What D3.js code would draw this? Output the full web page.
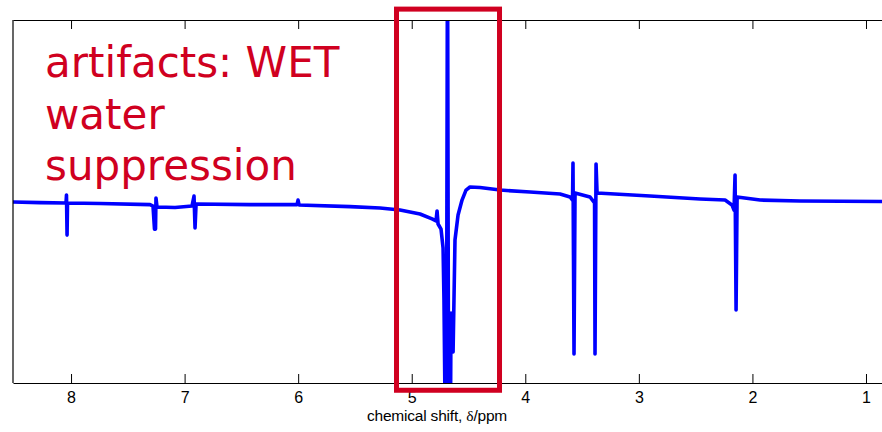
<!DOCTYPE html>
<html>
<head>
<meta charset="utf-8">
<script src="https://cdn.jsdelivr.net/npm/d3@7"></script>
<style>
    body { margin: 0; background: #fff; }
    .tick text { font-family: "Liberation Sans", Arial, sans-serif; font-size: 16px; fill: #000; }
</style>
</head>
<body>
<div id="chart"></div>
<script>
// spectrum: chemical shift (ppm) and intensity (arbitrary units)
var ppm = [8.511, 8.273, 8.044, 8.040, 8.035, 8.031, 7.745, 7.304, 7.278, 7.265,
    7.256, 7.252, 7.243, 7.084, 6.935, 6.917, 6.908, 6.899, 6.424, 6.010,
    6.001, 5.992, 5.543, 5.279, 5.103, 4.927, 4.821, 4.786, 4.777, 4.768,
    4.742, 4.724, 4.716, 4.707, 4.694, 4.685, 4.676, 4.658, 4.654, 4.645,
    4.636, 4.628, 4.619, 4.592, 4.557, 4.522, 4.487, 4.399, 4.222, 3.958,
    3.694, 3.606, 3.584, 3.580, 3.571, 3.562, 3.430, 3.390, 3.386, 3.377,
    3.368, 2.902, 2.461, 2.241, 2.180, 2.162, 2.153, 2.144, 2.135, 1.933,
    1.581, 0.859];
var intensity = [-0.3, -0.6, -0.8, 3.6, -18.5, -0.8, -1.1, -1.7, -2.5, -15.2,
    -15.2, 1.9, -3.0, -3.3, -2.5, 3.0, -14.6, -1.4, -1.7, -1.7,
    0.8, -1.9, -2.8, -3.6, -4.7, -6.9, -9.6, -10.7, -5.2, -12.4,
    -15.2, -25.6, -54.3, -110, -110, 150, -110, -110, -61.4, -82.9,
    -82.9, -54.3, -21.2, -7.4, 0.8, 6.3, 8.0, 7.7, 6.3, 5.2,
    4.1, 2.5, 0.8, 21.2, -84.0, 4.7, 2.5, -0.8, -84.0, 20.7,
    4.7, 3.0, 1.4, 0.8, -1.9, -4.7, 14.6, -59.8, 2.5, 0.8,
    0.3, 0];

var xTicks = [8, 7, 6, 5, 4, 3, 2, 1];
var noteLines = ["artifacts: WET", "water", "suppression"];
// highlighted water region (ppm) and its vertical extent (intensity units)
var boxPpm = [5.134, 4.227];
var boxIntensity = [106, -104];

var width = 882, height = 432;
var margin = {top: 20, right: 0, bottom: 49, left: 13};

var svg = d3.select("#chart")
    .append("svg")
    .attr("width", width)
    .attr("height", height);

var xScale = d3.scaleLinear()
    .domain([8.511, 0.859])
    .range([margin.left, width - margin.right]);

var yScale = d3.scaleLinear()
    .domain([-100, 100])
    .range([height - margin.bottom, margin.top]);

svg.append("clipPath")
    .attr("id", "plotClip")
    .append("rect")
    .attr("x", margin.left)
    .attr("y", margin.top)
    .attr("width", width - margin.left - margin.right)
    .attr("height", height - margin.top - margin.bottom);

var points = ppm.map(function (d, i) { return [d, intensity[i]]; });

var line = d3.line()
    .x(function (d) { return xScale(d[0]); })
    .y(function (d) { return yScale(d[1]); });

svg.append("path")
    .datum(points)
    .attr("clip-path", "url(#plotClip)")
    .attr("d", line)
    .attr("fill", "none")
    .attr("stroke", "#0000ff")
    .attr("stroke-width", 3.6)
    .attr("stroke-linejoin", "round");

// bottom axis with inward ticks
var xAxis = d3.axisBottom(xScale)
    .tickValues(xTicks)
    .tickFormat(d3.format("d"))
    .tickSizeInner(-9)
    .tickSizeOuter(0)
    .tickPadding(9);

svg.append("g")
    .attr("transform", "translate(0," + (height - margin.bottom) + ")")
    .call(xAxis)
    .call(function (g) { g.select(".domain").attr("stroke-width", 1.2); });

// top frame with the same ticks, no labels
svg.append("g")
    .attr("transform", "translate(0," + margin.top + ")")
    .call(d3.axisTop(xScale).tickValues(xTicks).tickFormat("").tickSizeInner(-9).tickSizeOuter(0))
    .call(function (g) { g.select(".domain").attr("stroke-width", 1.2); });

// left frame line
svg.append("line")
    .attr("x1", margin.left).attr("x2", margin.left)
    .attr("y1", margin.top).attr("y2", height - margin.bottom)
    .attr("stroke", "#000")
    .attr("stroke-width", 1.2);

// axis label
var label = svg.append("text")
    .attr("x", 437)
    .attr("y", 421)
    .attr("text-anchor", "middle")
    .attr("font-family", "Liberation Sans, Arial, sans-serif")
    .attr("font-size", 15.5)
    .attr("letter-spacing", -0.2)
    .text("chemical shift, ");
label.append("tspan")
    .attr("font-family", "Liberation Serif, Times New Roman, serif")
    .text("δ");
label.append("tspan").text("/ppm");

// red box round the water region
svg.append("rect")
    .attr("x", xScale(boxPpm[0]))
    .attr("y", yScale(boxIntensity[0]))
    .attr("width", xScale(boxPpm[1]) - xScale(boxPpm[0]))
    .attr("height", yScale(boxIntensity[1]) - yScale(boxIntensity[0]))
    .attr("fill", "none")
    .attr("stroke", "#d00020")
    .attr("stroke-width", 5);

// annotation text
svg.append("g")
    .selectAll("text")
    .data(noteLines)
    .enter()
    .append("text")
    .attr("x", 45)
    .attr("y", function (d, i) { return 77 + i * 51.5; })
    .attr("font-family", "DejaVu Sans, sans-serif")
    .attr("font-size", 42)
    .attr("fill", "#d00020")
    .text(function (d) { return d; });
</script>
</body>
</html>
